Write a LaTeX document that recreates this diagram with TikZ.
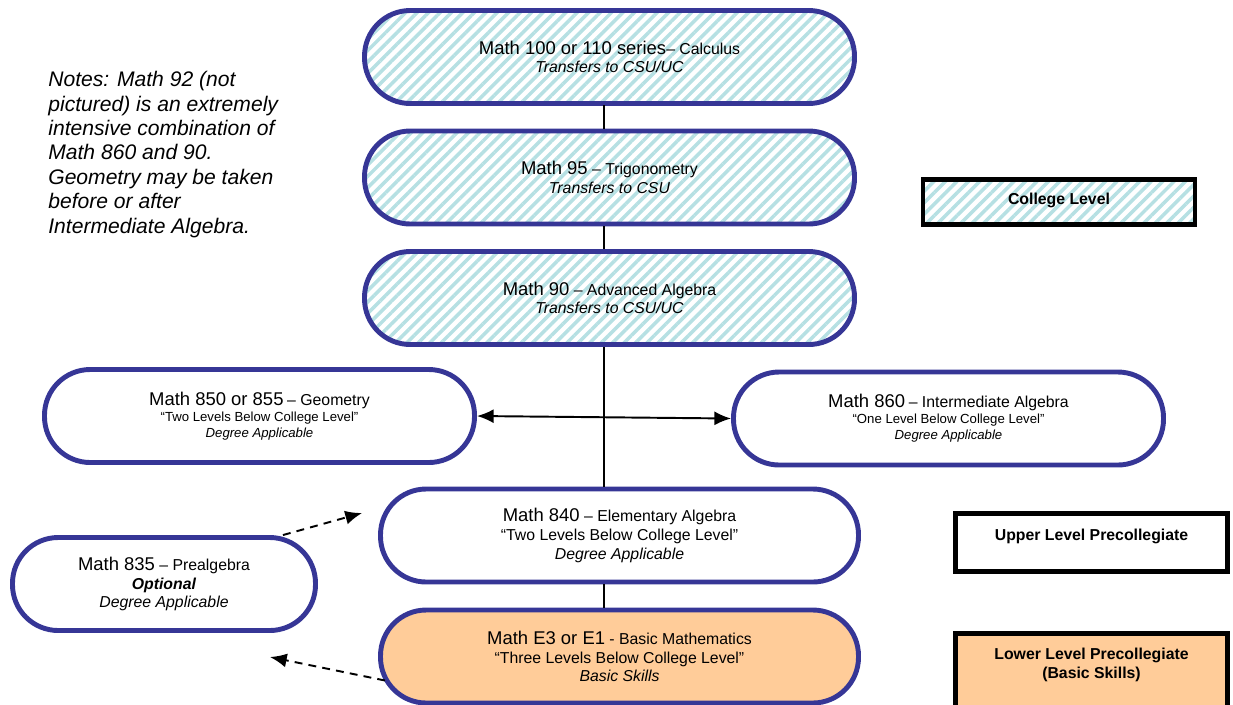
\documentclass[tikz,border=0pt]{standalone}
\usepackage{fontspec}
\setmainfont{Liberation Sans}
\usetikzlibrary{arrows.meta,patterns.meta}

\definecolor{courseblue}{HTML}{363696}
\definecolor{hatchcyan}{HTML}{B6E0E3}
\definecolor{basicorange}{HTML}{FFCC99}

\newdimen\px \px=0.02cm
\newcommand\bigf{\fontsize{10.5}{12}\selectfont}
\newcommand\midf{\fontsize{9}{10.6}\selectfont}
\newcommand\smallf{\fontsize{7.5}{9.2}\selectfont}

\tikzset{
  course/.style={draw=courseblue, line width=2.8pt, rounded corners=26pt,
    align=center, minimum height=93\px, inner sep=0pt, font=\smallf},
  college/.style={course, font=\midf,
    pattern={Lines[angle=45,distance=4.6pt,line width=2pt]}, pattern color=hatchcyan},
  legendbox/.style={draw=black, line width=2.8pt, inner sep=0pt, minimum width=272\px},
  legendtext/.style={font=\fontsize{9}{10.5}\selectfont\bfseries, align=center},
  link/.style={line width=1.1pt},
  tip/.style={-{Latex[length=9.5pt,width=8pt]}},
}

\begin{document}
\begin{tikzpicture}[x=\px, y=-\px]
  \useasboundingbox (0,0) rectangle (1233,704);

  \coordinate (spine) at (604,0);

  % college level courses
  \node[college, minimum width=490\px] (calc) at (609.5,57)
    {{\bigf Math 100 or 110 series}– Calculus\\ \textit{Transfers to CSU/UC}};
  \node[college, minimum width=490\px] (trig) at (609.5,177.5)
    {{\bigf Math 95} – Trigonometry\\ \textit{Transfers to CSU}};
  \node[college, minimum width=490\px] (adv) at (609.5,298)
    {{\bigf Math 90} – Advanced Algebra\\ \textit{Transfers to CSU/UC}};

  % upper level precollegiate
  \node[course, minimum width=430\px] (geom) at (259.5,416)
    {{\bigf Math 850 or 855} {\midf – Geometry}\\ “Two Levels Below College Level”\\ \textit{Degree Applicable}};
  \node[course, minimum width=430\px] (inter) at (948.5,418.5)
    {{\bigf Math 860} {\midf – Intermediate Algebra}\\ “One Level Below College Level”\\ \textit{Degree Applicable}};
  \node[course, minimum width=478\px, font=\midf] (elem) at (619.5,535.5)
    {{\bigf Math 840} – Elementary Algebra\\ “Two Levels Below College Level”\\ \textit{Degree Applicable}};
  \node[course, minimum width=303\px, font=\midf] (prealg) at (164,584)
    {{\bigf Math 835} – Prealgebra\\ \textbf{\textit{Optional}}\\ \textit{Degree Applicable}};

  % lower level
  \node[course, fill=basicorange, minimum width=478\px, font=\midf] (basic) at (619.5,656.5)
    {{\bigf Math E3 or E1} - Basic Mathematics\\ “Three Levels Below College Level”\\ \textit{Basic Skills}};

  % connectors
  \draw[link] (calc.south -| spine) -- (trig.north -| spine);
  \draw[link] (trig.south -| spine) -- (adv.north -| spine);
  \draw[link] (adv.south -| spine) -- (elem.north -| spine);
  \draw[link] (elem.south -| spine) -- (basic.north -| spine);
  \draw[link, {Latex[length=9.5pt,width=8pt]}-{Latex[length=9.5pt,width=8pt]}]
    (geom.east) -- (inter.west);

  \coordinate (toelem) at (362,513);
  \coordinate (toprealg) at (270,657);
  \draw[link, dash pattern=on 4.5pt off 3.5pt, tip]
    ([xshift=-35\px]prealg.north east) -- (toelem);
  \draw[link, dash pattern=on 4.5pt off 3.5pt, tip]
    ([shift={(7,24)}]basic.west) -- (toprealg);

  % notes
  \node[anchor=north west, align=left, inner sep=0pt,
    font=\fontsize{12}{13.9}\selectfont\itshape] (notes) at (48,71)
    {Notes: Math 92 (not\\ pictured) is an extremely\\ intensive combination of\\
     Math 860 and 90.\\ Geometry may be taken\\ before or after\\ Intermediate Algebra.};

  % legend
  \node[legendbox, minimum height=45\px, pattern={Lines[angle=45,distance=4.6pt,line width=2pt]},
    pattern color=hatchcyan] (collegebox) at (1059,202) {};
  \node[legendtext] (collegelabel) at (1059,200) {College Level};
  \node[legendbox, minimum height=58\px] (upperbox) at (1091.5,542.5) {};
  \node[legendtext] (upperlabel) at (1091.5,536) {Upper Level Precollegiate};
  \node[legendbox, minimum height=80\px, fill=basicorange] (lowerbox) at (1091.5,673.5) {};
  \node[legendtext] (lowerlabel) at (1091.5,665) {Lower Level Precollegiate\\ (Basic Skills)};
\end{tikzpicture}
\end{document}
